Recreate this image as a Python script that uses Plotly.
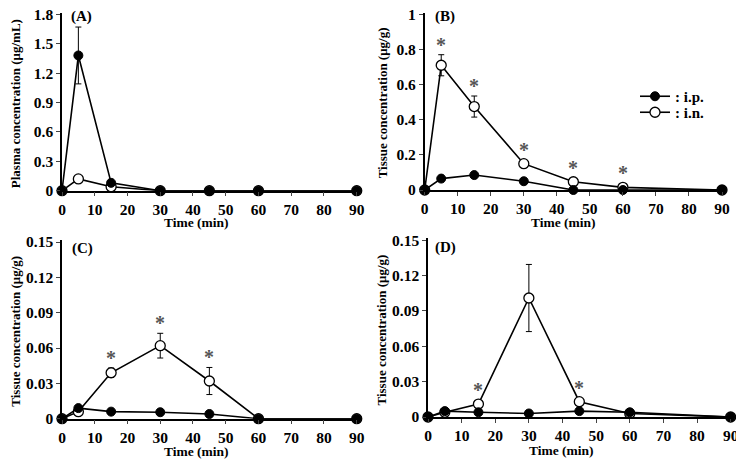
import plotly.graph_objects as go

# ---------------- data ----------------
time = [0, 5, 15, 30, 45, 60, 90]

A_ip = [0, 1.38, 0.08, 0, 0, 0, 0]
A_ip_err = [0, 0.29, 0, 0, 0, 0, 0]
A_in = [0, 0.12, 0.04, 0, 0, 0, 0]
A_in_err = [0, 0, 0, 0, 0, 0, 0]
A_stars = []

B_ip = [0, 0.065, 0.085, 0.05, 0, 0, 0]
B_ip_err = [0, 0, 0, 0, 0, 0, 0]
B_in = [0, 0.71, 0.475, 0.15, 0.047, 0.015, 0]
B_in_err = [0, 0.06, 0.06, 0, 0, 0, 0]
B_stars = [5, 15, 30, 45, 60]

C_ip = [0, 0.009, 0.006, 0.0055, 0.004, 0, 0]
C_ip_err = [0, 0, 0, 0, 0, 0, 0]
C_in = [0, 0.006, 0.039, 0.062, 0.032, 0, 0]
C_in_err = [0, 0, 0.004, 0.0105, 0.0115, 0, 0]
C_stars = [15, 30, 45]

D_ip = [0, 0.005, 0.004, 0.003, 0.005, 0.004, 0]
D_ip_err = [0, 0, 0, 0, 0, 0, 0]
D_in = [0, 0.004, 0.011, 0.101, 0.013, 0.003, 0]
D_in_err = [0, 0, 0, 0.0285, 0, 0, 0]
D_stars = [15, 45]

panel_labels = ["(A)", "(B)", "(C)", "(D)"]
y_titles = ["Plasma concentration (μg/mL)", "Tissue concentration (μg/g)",
            "Tissue concentration (μg/g)", "Tissue concentration (μg/g)"]
x_title = "Time (min)"
y_ticks = [[0, 0.3, 0.6, 0.9, 1.2, 1.5, 1.8],
           [0, 0.2, 0.4, 0.6, 0.8, 1],
           [0, 0.03, 0.06, 0.09, 0.12, 0.15],
           [0, 0.03, 0.06, 0.09, 0.12, 0.15]]
y_ticktext = [["0", "0.3", "0.6", "0.9", "1.2", "1.5", "1.8"],
              ["0", "0.2", "0.4", "0.6", "0.8", "1"],
              ["0", "0.03", "0.06", "0.09", "0.12", "0.15"],
              ["0", "0.03", "0.06", "0.09", "0.12", "0.15"]]
x_ticks = [0, 10, 20, 30, 40, 50, 60, 70, 80, 90]
legend_names = [": i.p.", ": i.n."]

# ---------------- layout geometry (pixels in the reference) ----------------
OFF = 8                       # page body margin shifts the figure by this
W, H = 744 - OFF, 467 - 15    # figure size
# left, right, top(axis line end), bottom(y=0), pixel of top tick,
# y-title x, x-title centre x, x-title centre y, panel label (x, y)
geom = [(62, 360, 12.7, 190.7, 14.3, 15.5, 196, 222.5, 69, 16.5),
        (424.7, 725.3, 12.7, 190.0, 14.3, 382, 563, 222.5, 433, 16.5),
        (62, 360, 239.7, 418.7, 242.0, 15.5, 196, 451, 70, 248.5),
        (428, 734, 238.0, 417.0, 240.3, 381, 561, 450, 433, 247.5)]


def fx(p):
    return (p - OFF) / W


def fy(p):
    return 1 - (p - OFF) / H


FONT = "Liberation Serif"
TICKSIZE = 15.5

panels = [(A_ip, A_ip_err, A_in, A_in_err, A_stars),
          (B_ip, B_ip_err, B_in, B_in_err, B_stars),
          (C_ip, C_ip_err, C_in, C_in_err, C_stars),
          (D_ip, D_ip_err, D_in, D_in_err, D_stars)]

fig = go.Figure()
annotations = []

for i, (ip, ip_err, inn, in_err, stars) in enumerate(panels):
    n = "" if i == 0 else str(i + 1)
    xa, ya = "x" + n, "y" + n
    showleg = (i == 1)
    fig.add_trace(go.Scatter(
        x=time, y=inn, xaxis=xa, yaxis=ya, mode="lines+markers",
        name=legend_names[1], showlegend=showleg, legend="legend2",
        line=dict(color="black", width=1.6),
        marker=dict(symbol="circle", size=10, color="white",
                    line=dict(color="black", width=1.3)),
        error_y=dict(type="data", array=in_err, visible=True,
                     color="black", thickness=1, width=3),
        cliponaxis=False))
    fig.add_trace(go.Scatter(
        x=time, y=ip, xaxis=xa, yaxis=ya, mode="lines+markers",
        name=legend_names[0], showlegend=showleg, legend="legend",
        line=dict(color="black", width=1.6),
        marker=dict(symbol="circle", size=9, color="black",
                    line=dict(color="black", width=1)),
        error_y=dict(type="data", array=ip_err, visible=True,
                     color="black", thickness=1, width=3),
        cliponaxis=False))

    l, r, t, b, ttop, ytx, xtx, xty, plx, ply = geom[i]
    ymax_tick = y_ticks[i][-1]
    yr = ymax_tick * (b - t) / (b - ttop)
    fig.layout["xaxis" + n] = dict(
        domain=[fx(l), fx(r)], range=[0, 91], anchor=ya, automargin=False,
        tickvals=x_ticks, ticks="outside", ticklen=4, tickwidth=1.3,
        showline=True, linecolor="black", linewidth=1.5,
        showgrid=False, zeroline=False, ticklabeloverflow="allow",
        tickfont=dict(family=FONT, size=TICKSIZE, color="black",
                      weight="bold"))
    fig.layout["yaxis" + n] = dict(
        domain=[fy(b), fy(t)], range=[0, yr], anchor=xa,
        automargin=False, ticklabeloverflow="allow",
        tickvals=y_ticks[i], ticktext=y_ticktext[i],
        ticks="outside", ticklen=4, tickwidth=1.3,
        showline=True, linecolor="black", linewidth=1.5,
        showgrid=False, zeroline=False,
        tickfont=dict(family=FONT, size=TICKSIZE, color="black",
                      weight="bold"))

    # panel label
    annotations.append(dict(
        text=panel_labels[i], xref="paper", yref="paper",
        x=fx(plx), y=fy(ply), xanchor="left", yanchor="middle",
        showarrow=False,
        font=dict(family=FONT, size=15, color="black", weight="bold")))
    # axis titles
    annotations.append(dict(
        text=x_title, xref="paper", yref="paper",
        x=fx(xtx), y=fy(xty),
        xanchor="center", yanchor="middle", showarrow=False,
        font=dict(family=FONT, size=13.5, color="black", weight="bold")))
    annotations.append(dict(
        text=y_titles[i], xref="paper", yref="paper",
        x=fx(ytx), y=fy((t + b) / 2 + 2), textangle=-90,
        xanchor="center", yanchor="middle", showarrow=False,
        font=dict(family=FONT, size=13, color="black", weight="bold")))
    # significance stars
    for s in stars:
        k = time.index(s)
        yv = inn[k] + in_err[k]
        shift = 2 if in_err[k] > 0 else 6
        annotations.append(dict(
            text="*", xref=xa, yref=ya, x=s, y=yv, xanchor="center",
            yanchor="bottom", showarrow=False, yshift=shift - 5,
            font=dict(family=FONT, size=20, color="#555555", weight="bold")))

LEG = dict(xanchor="left", yanchor="top", bgcolor="rgba(0,0,0,0)",
           itemwidth=30,
           font=dict(family=FONT, size=15, color="black", weight="bold"))

fig.update_layout(
    template="none",
    width=W, height=H, margin=dict(l=0, r=0, t=0, b=0, autoexpand=False),
    paper_bgcolor="white", plot_bgcolor="white",
    annotations=annotations,
    showlegend=True,
    legend=dict(x=fx(635), y=fy(80), **LEG),
    legend2=dict(x=fx(635), y=fy(96), **LEG),
)

fig.write_html("out.html")
